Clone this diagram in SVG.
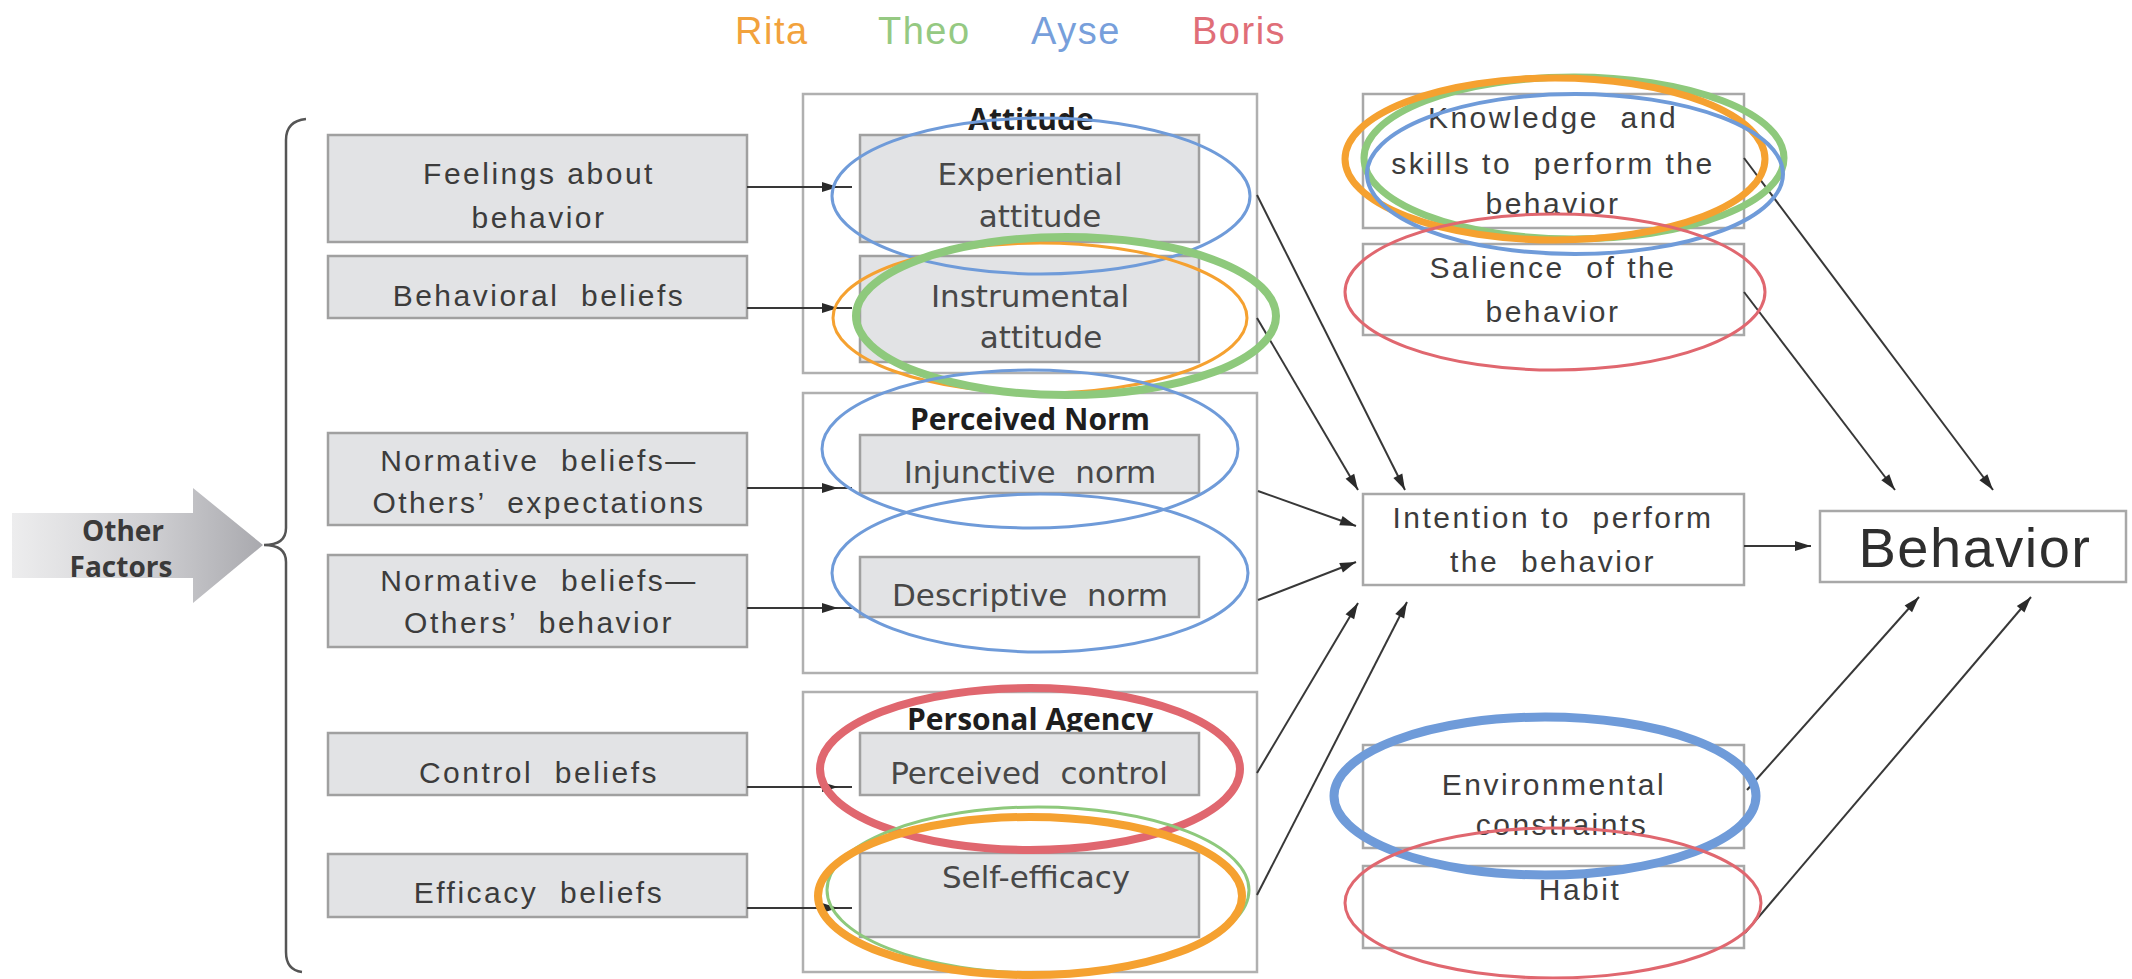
<svg xmlns="http://www.w3.org/2000/svg" width="2132" height="979" viewBox="0 0 2132 979">
<style>
.bg{fill:#ffffff}
.gbox{fill:#e2e3e5;stroke:#a0a0a0;stroke-width:2.5}
.obox{fill:#ffffff;stroke:#b0b0b0;stroke-width:2.5}
.wbox{fill:#ffffff;stroke:#a8a8a8;stroke-width:2.5}
.t{font-family:"Liberation Sans",Arial,sans-serif;font-size:30px;letter-spacing:2.5px;fill:#3c3c3c;text-anchor:middle}
.m{font-family:"DejaVu Sans",Verdana,sans-serif;font-size:31px;fill:#484848;text-anchor:middle}
.h{font-family:"Open Sans","Liberation Sans",sans-serif;font-weight:bold;font-size:30px;fill:#1e1e1e;text-anchor:middle}
.big{font-family:"Liberation Sans",Arial,sans-serif;font-size:56px;letter-spacing:1.5px;fill:#2e2e2e;text-anchor:middle}
.leg{font-family:"Liberation Sans",Arial,sans-serif;font-size:38px;letter-spacing:1.5px}
.c{fill:none;stroke:#383838;stroke-width:2}
.e{fill:none}
.thin{stroke-width:3}
.thick{stroke-width:8}
.or{stroke:#f5a130}.gr{stroke:#8ec97c}.bl{stroke:#6f9bd9}.rd{stroke:#e0676f}
</style>
<defs>
<marker id="ah" markerUnits="userSpaceOnUse" markerWidth="18" markerHeight="12" refX="16" refY="5" orient="auto" overflow="visible">
<path d="M0,0 L16,5 L0,10 Z" fill="#2a2a2a"/>
</marker>
<marker id="ahT" markerUnits="userSpaceOnUse" markerWidth="32" markerHeight="12" refX="30" refY="5" orient="auto" overflow="visible">
<path d="M0,0 L16,5 L0,10 Z" fill="#2a2a2a"/>
</marker>
<linearGradient id="ofg" x1="12" y1="0" x2="263" y2="0" gradientUnits="userSpaceOnUse">
<stop offset="0" stop-color="#ededee"/>
<stop offset="0.55" stop-color="#cfcfd2"/>
<stop offset="1" stop-color="#a9a9ae"/>
</linearGradient>
</defs>
<rect class="bg" x="0" y="0" width="2132" height="979"/>

<g id="legend">
<text class="leg" x="735" y="44" fill="#f2a23c">Rita</text>
<text class="leg" x="878" y="44" fill="#95c982">Theo</text>
<text class="leg" x="1031" y="44" fill="#779fdb">Ayse</text>
<text class="leg" x="1192" y="44" fill="#e06e78">Boris</text>
</g>

<g id="other-factors">
<path d="M12,513 L193,513 L193,488 L263,545 L193,603 L193,578 L12,578 Z" fill="url(#ofg)"/>
<text class="h" x="123" y="541" style="font-size:28px;fill:#3a3a3a">Other</text>
<text class="h" x="121" y="577" style="font-size:28px;fill:#3a3a3a">Factors</text>
</g>

<g id="bracket">
<path d="M306,119 Q286,121 286,140 L286,528 Q286,545 264,545 Q286,545 286,562 L286,952 Q286,970 302,972" fill="none" stroke="#555" stroke-width="2.5"/>
</g>

<g id="feelings"><rect class="gbox" x="328" y="135" width="419" height="107"/>
<text class="t" x="539" y="184">Feelings about</text><text class="t" x="539" y="228">behavior</text></g>
<g id="behavioral-beliefs"><rect class="gbox" x="328" y="256" width="419" height="62"/>
<text class="t" x="539" y="306" xml:space="preserve">Behavioral  beliefs</text></g>
<g id="normative-expectations"><rect class="gbox" x="328" y="433" width="419" height="92"/>
<text class="t" x="539" y="471" xml:space="preserve">Normative  beliefs—</text><text class="t" x="539" y="513" xml:space="preserve">Others’  expectations</text></g>
<g id="normative-behavior"><rect class="gbox" x="328" y="555" width="419" height="92"/>
<text class="t" x="539" y="591" xml:space="preserve">Normative  beliefs—</text><text class="t" x="539" y="633" xml:space="preserve">Others’  behavior</text></g>
<g id="control-beliefs"><rect class="gbox" x="328" y="733" width="419" height="62"/>
<text class="t" x="539" y="783" xml:space="preserve">Control  beliefs</text></g>
<g id="efficacy-beliefs"><rect class="gbox" x="328" y="854" width="419" height="63"/>
<text class="t" x="539" y="903" xml:space="preserve">Efficacy  beliefs</text></g>

<g id="attitude"><rect class="obox" x="803" y="94" width="454" height="279"/>
<text class="h" x="1031" y="130">Attitude</text></g>
<g id="experiential"><rect class="gbox" x="860" y="135" width="339" height="107"/>
<text class="m" x="1030" y="185">Experiential</text><text class="m" x="1040" y="227">attitude</text></g>
<g id="instrumental"><rect class="gbox" x="860" y="256" width="339" height="106"/>
<text class="m" x="1030" y="307">Instrumental</text><text class="m" x="1041" y="348">attitude</text></g>

<g id="perceived-norm"><rect class="obox" x="803" y="393" width="454" height="280"/>
<text class="h" x="1030" y="430">Perceived Norm</text></g>
<g id="injunctive"><rect class="gbox" x="860" y="435" width="339" height="58"/>
<text class="m" x="1030" y="483" xml:space="preserve">Injunctive  norm</text></g>
<g id="descriptive"><rect class="gbox" x="860" y="557" width="339" height="60"/>
<text class="m" x="1030" y="606" xml:space="preserve">Descriptive  norm</text></g>

<g id="personal-agency"><rect class="obox" x="803" y="692" width="454" height="280"/>
<text class="h" x="1030" y="730">Personal Agency</text></g>
<g id="perceived-control"><rect class="gbox" x="860" y="733" width="339" height="62"/>
<text class="m" x="1029" y="784" xml:space="preserve">Perceived  control</text></g>
<g id="self-efficacy"><rect class="gbox" x="860" y="853" width="339" height="84"/>
<text class="m" x="1036" y="888">Self-efficacy</text></g>

<g id="knowledge"><rect class="wbox" x="1363" y="94" width="381" height="134"/>
<text class="t" x="1553" y="128" xml:space="preserve">Knowledge  and</text>
<text class="t" x="1553" y="174" xml:space="preserve">skills to  perform the</text>
<text class="t" x="1553" y="214">behavior</text></g>
<g id="salience"><rect class="wbox" x="1363" y="244" width="381" height="91"/>
<text class="t" x="1553" y="278" xml:space="preserve">Salience  of the</text>
<text class="t" x="1553" y="322">behavior</text></g>
<g id="intention"><rect class="wbox" x="1363" y="494" width="381" height="91"/>
<text class="t" x="1553" y="528" xml:space="preserve">Intention to  perform</text>
<text class="t" x="1553" y="572" xml:space="preserve">the  behavior</text></g>
<g id="environmental"><rect class="wbox" x="1363" y="745" width="381" height="103"/>
<text class="t" x="1554" y="795">Environmental</text>
<text class="t" x="1562" y="835">constraints</text></g>
<g id="habit"><rect class="wbox" x="1363" y="866" width="381" height="82"/>
<text class="t" x="1580" y="900">Habit</text></g>
<g id="behavior"><rect class="wbox" x="1820" y="511" width="306" height="71"/>
<text class="big" x="1975" y="567">Behavior</text></g>

<g id="connectors">
<line class="c" x1="747" y1="187" x2="852" y2="187" marker-end="url(#ahT)"/>
<line class="c" x1="747" y1="308" x2="852" y2="308" marker-end="url(#ahT)"/>
<line class="c" x1="747" y1="488" x2="852" y2="488" marker-end="url(#ahT)"/>
<line class="c" x1="747" y1="608" x2="852" y2="608" marker-end="url(#ahT)"/>
<line class="c" x1="747" y1="787" x2="852" y2="787" marker-end="url(#ahT)"/>
<line class="c" x1="747" y1="908" x2="852" y2="908" marker-end="url(#ahT)"/>
<line class="c" x1="1257" y1="195" x2="1405" y2="490" marker-end="url(#ah)"/>
<line class="c" x1="1257" y1="318" x2="1358" y2="490" marker-end="url(#ah)"/>
<line class="c" x1="1258" y1="491" x2="1356" y2="526" marker-end="url(#ah)"/>
<line class="c" x1="1258" y1="600" x2="1356" y2="562" marker-end="url(#ah)"/>
<line class="c" x1="1257" y1="773" x2="1358" y2="603" marker-end="url(#ah)"/>
<line class="c" x1="1257" y1="895" x2="1407" y2="602" marker-end="url(#ah)"/>
<line class="c" x1="1744" y1="546" x2="1811" y2="546" marker-end="url(#ah)"/>
<line class="c" x1="1744" y1="158" x2="1993" y2="490" marker-end="url(#ah)"/>
<line class="c" x1="1744" y1="292" x2="1895" y2="490" marker-end="url(#ah)"/>
<line class="c" x1="1747" y1="790" x2="1919" y2="597" marker-end="url(#ah)"/>
<line class="c" x1="1745" y1="933" x2="2031" y2="597" marker-end="url(#ah)"/>
</g>

<g id="annotations">
<ellipse class="e thin bl" cx="1041" cy="196" rx="209" ry="78"/>
<ellipse class="e thin or" cx="1040" cy="318" rx="207" ry="75"/>
<ellipse class="e thick gr" cx="1066" cy="316" rx="210" ry="79"/>
<ellipse class="e thin bl" cx="1030" cy="449" rx="208" ry="79"/>
<ellipse class="e thin bl" cx="1040" cy="573" rx="208" ry="79"/>
<ellipse class="e thick rd" cx="1030" cy="769" rx="210" ry="81"/>
<ellipse class="e thin gr" cx="1038" cy="890" rx="211" ry="83"/>
<ellipse class="e thick or" cx="1030" cy="896" rx="212" ry="79"/>
<ellipse class="e thick gr" cx="1574" cy="158" rx="210" ry="81" style="stroke-width:7"/>
<ellipse class="e thick or" cx="1555" cy="159" rx="210" ry="81" style="stroke-width:7"/>
<ellipse class="e bl" cx="1575" cy="174" rx="208" ry="80" style="stroke-width:4"/>
<ellipse class="e thin rd" cx="1555" cy="292" rx="210" ry="78"/>
<ellipse class="e thick bl" cx="1545" cy="796" rx="211" ry="79" style="stroke-width:9"/>
<ellipse class="e thin rd" cx="1553" cy="903" rx="208" ry="75"/>
</g>
</svg>
